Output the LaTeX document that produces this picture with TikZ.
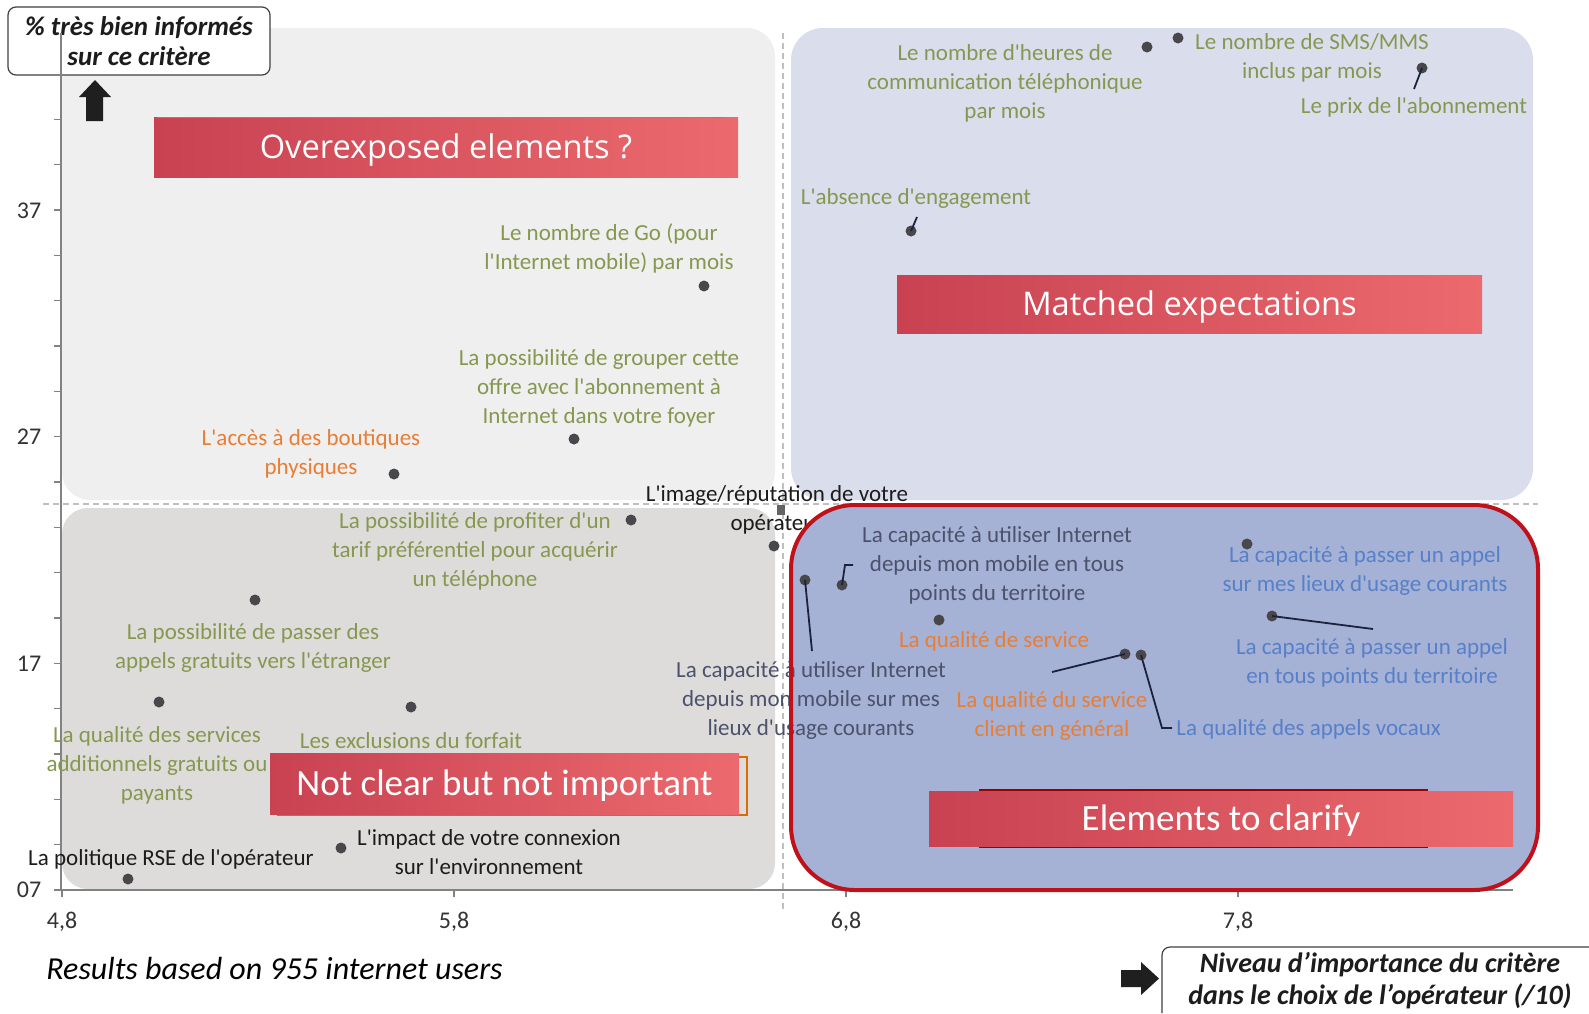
\documentclass[tikz,border=0pt]{standalone}
\usepackage{fontspec}
\setmainfont{Carlito}
\newfontfamily\osans{Open Sans}
\newfontfamily\carl{Carlito}
\definecolor{oliveLab}{RGB}{134,152,80}
\definecolor{orangeLab}{RGB}{232,126,52}
\definecolor{slateLab}{RGB}{76,82,108}
\definecolor{blueLab}{RGB}{86,128,200}
\definecolor{darkLab}{RGB}{28,28,28}
\definecolor{bgTL}{RGB}{239,239,239}
\definecolor{bgTR}{RGB}{217,221,236}
\definecolor{bgBL}{RGB}{222,220,218}
\definecolor{bgBR}{RGB}{166,177,214}
\definecolor{borderBR}{RGB}{192,16,26}
\definecolor{banL}{RGB}{200,66,82}
\definecolor{banR}{RGB}{236,106,110}
\definecolor{ptCol}{RGB}{72,72,76}
\definecolor{axisCol}{RGB}{130,130,130}
\definecolor{leadCol}{RGB}{28,34,62}
\begin{document}
\begin{tikzpicture}[x=0.5pt,y=-0.5pt,
  labtxt/.style={font=\carl\fontsize{11.5pt}{14.5pt}\selectfont, align=center, inner sep=0pt},
  ptdot/.style={circle, fill=ptCol, minimum size=5.5pt, inner sep=0pt},
  leaderln/.style={draw=leadCol, line width=0.9pt},
  bannerbox/.style={left color=banL, right color=banR, text=white, inner sep=0pt, text depth=0pt},
  osban/.style={bannerbox, font=\osans\fontsize{16.3pt}{18pt}\selectfont, text height=11.6pt},
  cban/.style={bannerbox, font=\carl\fontsize{18.5pt}{20pt}\selectfont, text height=11.9pt},
  axisln/.style={draw=axisCol, line width=0.6pt},
  divln/.style={draw=black!25, line width=0.6pt, dash pattern=on 3pt off 2pt},
  titlebox/.style={draw=black!75, fill=white, rounded corners=4pt, line width=0.6pt, align=center, inner sep=0pt,
     font=\carl\bfseries\itshape\fontsize{13.5pt}{15pt}\selectfont, text=darkLab},
  ticklab/.style={font=\carl\fontsize{12pt}{13pt}\selectfont, text=black!80, inner sep=0pt}
]
\useasboundingbox (0,0) rectangle (1589,1013);
\fill[white] (0,0) rectangle (1589,1013);

% quadrant backgrounds
\fill[bgTL, rounded corners=14pt] (62,28) rectangle (775,500);
\fill[bgTR, rounded corners=16pt] (791,28) rectangle (1533,500);
\fill[bgBL, rounded corners=13pt] (62,508) rectangle (775,889);

% dividers
\draw[divln] (783,33) -- (783,910);
\draw[divln] (43,504) -- (1538,504);

% label partly hidden by the red frame
\node[labtxt, text=darkLab] (image) at (777,510) {L'image/réputation de votre\\opérateur};

% bottom-right fill
\fill[bgBR, rounded corners=32pt] (791,505) rectangle (1538,890);

% y-axis title
\node[titlebox, minimum width=131pt, minimum height=34pt] (ytitle) at (139,41) {\% très bien informés\\sur ce critère};

% axes
\draw[axisln] (61,33) -- (61,890);
\draw[axisln] (54,890) -- (1513,890);
\foreach \k in {0,...,17} \draw[axisln] (54,890-45.333*\k) -- (61,890-45.333*\k);
\foreach \xx in {62,454,846,1238} \draw[axisln] (\xx,890) -- (\xx,897);
\node[ticklab] (y37) at (29,211) {37};
\node[ticklab] (y27) at (29,437) {27};
\node[ticklab] (y17) at (29,664) {17};
\node[ticklab] (y07) at (29,890) {07};
\node[ticklab] (x48) at (62,922) {4,8};
\node[ticklab] (x58) at (454,922) {5,8};
\node[ticklab] (x68) at (846,922) {6,8};
\node[ticklab] (x78) at (1238,922) {7,8};

% arrows
\fill[black!88] (86,121) -- (86,97) -- (79,97) -- (95,80) -- (111,97) -- (103,97) -- (103,121) -- cycle;
\fill[black!88] (1121,970) -- (1141,970) -- (1141,962) -- (1159,978.5) -- (1141,995) -- (1141,987) -- (1121,987) -- cycle;

% x-axis title
\draw[black!75, line width=0.6pt, rounded corners=4pt] (1589,947) -- (1162,947) -- (1162,1013);
\node[font=\carl\bfseries\itshape\fontsize{14pt}{16pt}\selectfont, text=darkLab, align=center, inner sep=0pt] (xtitle) at (1380,981) {Niveau d’importance du critère\\dans le choix de l’opérateur (/10)};
\node[font=\carl\itshape\fontsize{16pt}{18pt}\selectfont, text=black, anchor=west, inner sep=0pt] (results) at (46,968) {Results based on 955 internet users};

% banners
\node[osban, minimum width=292pt, minimum height=30pt] (over) at (446,147) {Overexposed elements ?};
\draw[orange!80!red, line width=0.8pt] (157,117.5) -- (726,117.5);
\draw[green!55!black!70, line width=0.6pt] (897,333) -- (1429,333);
\node[osban, minimum width=292.5pt, minimum height=29pt] (match) at (1189.5,304) {Matched expectations};
\draw[orange!85!black, line width=0.9pt] (278,757) rectangle (747,815);
\fill[red!60!black] (979,789) rectangle (1428,848);
\node[cban, minimum width=292pt, minimum height=27.5pt] (clarify) at (1221,818.5) {Elements to clarify};

% labels
\node[labtxt, text=oliveLab] (golab) at (609,248) {Le nombre de Go (pour\\l'Internet mobile) par mois};
\node[labtxt, text=oliveLab] (grplab) at (599,388) {La possibilité de grouper cette\\offre avec l'abonnement à\\Internet dans votre foyer};
\node[labtxt, text=orangeLab] (boutlab) at (311,453.5) {L'accès à des boutiques\\physiques};
\node[labtxt, text=oliveLab] (tariflab) at (475,551) {La possibilité de profiter d'un\\tarif préférentiel pour acquérir\\un téléphone};
\node[labtxt, text=slateLab] (captlab) at (997,565) {La capacité à utiliser Internet\\depuis mon mobile en tous\\points du territoire};
\node[labtxt, text=slateLab] (caplab) at (811,700) {La capacité à utiliser Internet\\depuis mon mobile sur mes\\lieux d'usage courants};
\node[labtxt, text=orangeLab] (qslab) at (994,641) {La qualité de service};
\node[labtxt, text=orangeLab] (qclab) at (1052,716) {La qualité du service\\client en général};
\node[labtxt, text=blueLab, anchor=west] (qvlab) at (1176,729) {La qualité des appels vocaux};
\node[labtxt, text=blueLab] (appllab) at (1365,570.5) {La capacité à passer un appel\\sur mes lieux d'usage courants};
\node[labtxt, text=blueLab] (apptlab) at (1372,662.5) {La capacité à passer un appel\\en tous points du territoire};
\node[labtxt, text=oliveLab] (heurlab) at (1005,83) {Le nombre d'heures de\\communication téléphonique\\par mois};
\node[labtxt, text=oliveLab] (smslab) at (1312,57.5) {Le nombre de SMS/MMS\\inclus par mois};
\node[labtxt, text=oliveLab] (prixlab) at (1414,107) {Le prix de l'abonnement};
\node[labtxt, text=oliveLab] (abslab) at (916,198) {L'absence d'engagement};
\node[labtxt, text=oliveLab] (appelslab) at (253,647.5) {La possibilité de passer des\\appels gratuits vers l'étranger};
\node[labtxt, text=oliveLab] (servlab) at (157,765) {La qualité des services\\additionnels gratuits ou\\payants};
\node[labtxt, text=oliveLab] (excllab) at (411,741) {Les exclusions du forfait};
\node[labtxt, text=darkLab] (implab) at (489,852.5) {L'impact de votre connexion\\sur l'environnement};
\node[labtxt, text=darkLab] (rselab) at (171,859) {La politique RSE de l'opérateur};

% banner that covers a label edge
\node[cban, minimum width=234.5pt, minimum height=30.5pt] (notclear) at (504.5,783.5) {Not clear but not important};

% points
\node[ptdot] (pGo) at (704,286) {};
\node[ptdot] (pGrp) at (574,439) {};
\node[ptdot] (pBout) at (394,474) {};
\node[ptdot] (pTarif) at (631,520) {};
\node[ptdot] (pImg) at (774,546) {};
\node[rectangle, fill=ptCol!85, minimum width=4pt, minimum height=5pt, inner sep=0pt] (sq) at (781,510) {};
\node[ptdot] (pCapL) at (805,580) {};
\node[ptdot] (pCapT) at (842,585) {};
\node[ptdot] (pQs) at (939,620) {};
\node[ptdot] (pQc) at (1125,654) {};
\node[ptdot] (pQv) at (1141,655) {};
\node[ptdot] (pAppL) at (1247,544) {};
\node[ptdot] (pAppT) at (1272,616) {};
\node[ptdot] (pH) at (1147,47) {};
\node[ptdot] (pSms) at (1178,38) {};
\node[ptdot] (pPrix) at (1422,68) {};
\node[ptdot] (pAbs) at (911,231) {};
\node[ptdot] (pAppels) at (255,600) {};
\node[ptdot] (pServ) at (159,702) {};
\node[ptdot] (pExcl) at (411,707) {};
\node[ptdot] (pImpact) at (341,848) {};
\node[ptdot] (pRse) at (128,879) {};

% leader lines
\coordinate (eCapL) at (812,651);
\coordinate (kCapT) at (845,565);
\coordinate (eCapT) at (853,565);
\coordinate (eQc) at (1052,672);
\coordinate (kQv) at (1162,728);
\coordinate (eQv) at (1172,728);
\coordinate (eAppT) at (1373,629);
\coordinate (ePrix) at (1414,89);
\coordinate (eAbs) at (917,217);
\draw[leaderln] (pCapL.center) -- (eCapL);
\draw[leaderln] (pCapT.center) -- (kCapT) -- (eCapT);
\draw[leaderln] (pQc.center) -- (eQc);
\draw[leaderln] (pQv.center) -- (kQv) -- (eQv);
\draw[leaderln] (pAppT.center) -- (eAppT);
\draw[leaderln] (pPrix.center) -- (ePrix);
\draw[leaderln] (pAbs.center) -- (eAbs);

% red frame
\draw[borderBR, line width=2pt, rounded corners=32pt] (791,505) rectangle (1538,890);
\end{tikzpicture}
\end{document}
